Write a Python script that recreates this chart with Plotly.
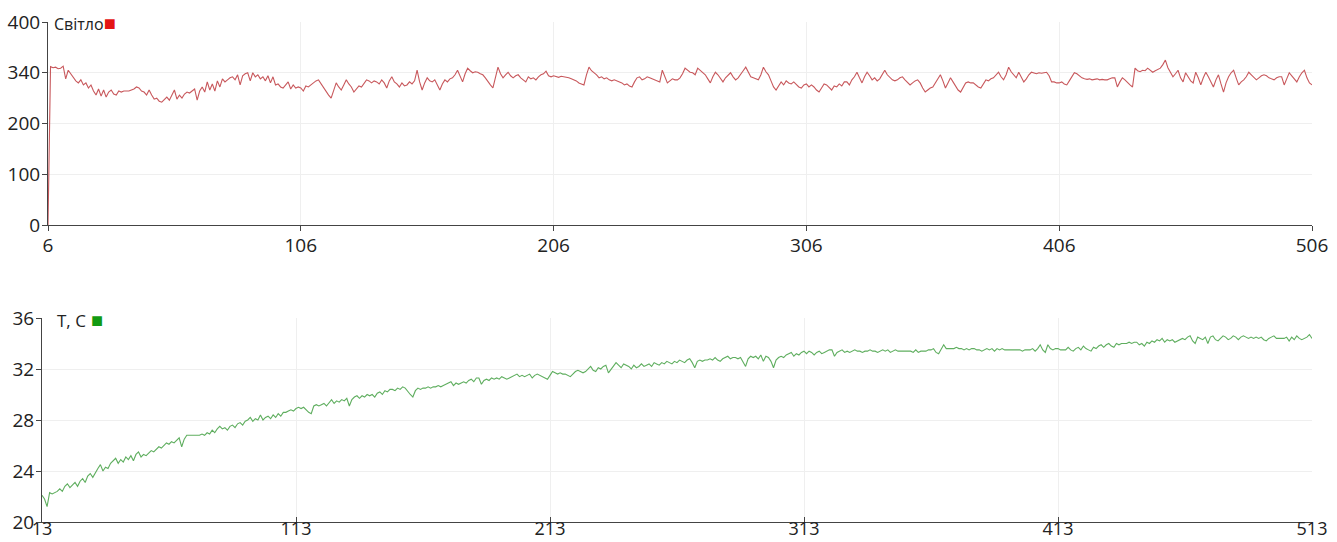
import plotly.graph_objects as go

# ---- Top series: "Світло" (light), x = 6..506 ----
light_x_start = 6
light_a = [0, 312, 310, 311, 308, 309, 313, 288, 305, 298, 292, 284, 280, 286, 276, 280, 270, 276, 264, 256,
           268, 254, 266, 252, 262, 266, 258, 256, 264, 262, 264, 264, 264, 266, 268, 272, 270, 264, 262, 256,
           266, 256, 248, 250, 244, 242, 248, 252, 246, 256, 266, 248, 256, 250, 258, 262, 260, 264, 268, 246,
           264, 272, 262, 282, 266, 278, 264, 284, 272, 288, 282, 286, 290, 292, 286, 296, 276, 294, 298, 300,
           284, 300, 292, 296, 288, 292, 284, 294, 280, 292, 276, 278, 272, 270, 276, 282, 268, 276, 270, 272]
light_b = [270, 264, 274, 272, 276, 280, 284, 286, 278, 272, 262, 256, 250, 264, 280, 272, 266, 276, 286, 278,
           272, 262, 268, 274, 272, 280, 286, 284, 280, 284, 282, 278, 286, 280, 270, 284, 292, 282, 278, 272,
           280, 274, 276, 282, 278, 284, 305, 282, 266, 280, 290, 284, 282, 286, 276, 266, 278, 286, 282, 288,
           290, 296, 305, 292, 282, 298, 309, 304, 300, 302, 301, 298, 296, 290, 282, 276, 270, 290, 311, 298,
           290, 296, 301, 294, 290, 294, 296, 290, 286, 282, 292, 288, 290, 286, 292, 296, 298, 303, 294, 292]
light_c = [294, 292, 291, 293, 292, 292, 290, 288, 286, 284, 280, 278, 276, 296, 311, 304, 300, 296, 290, 292,
           288, 290, 286, 284, 286, 284, 282, 280, 276, 278, 274, 272, 282, 290, 292, 286, 288, 292, 290, 288,
           286, 284, 282, 305, 292, 280, 284, 288, 286, 286, 290, 298, 309, 304, 301, 300, 296, 309, 304, 301,
           296, 288, 280, 292, 301, 296, 288, 282, 290, 296, 300, 292, 286, 290, 296, 304, 311, 300, 292, 290,
           288, 286, 296, 311, 302, 296, 284, 272, 266, 274, 282, 276, 284, 280, 278, 282, 276, 272, 270, 276]
light_d = [278, 272, 276, 272, 266, 262, 270, 278, 276, 270, 266, 274, 272, 278, 274, 282, 282, 276, 286, 292,
           301, 290, 280, 292, 301, 294, 286, 290, 284, 288, 296, 305, 296, 290, 286, 284, 286, 290, 292, 286,
           280, 276, 280, 284, 286, 280, 270, 262, 266, 270, 272, 280, 290, 296, 284, 270, 280, 290, 282, 274,
           266, 262, 270, 280, 282, 280, 280, 276, 272, 270, 278, 286, 284, 288, 290, 296, 301, 292, 286, 296,
           311, 302, 296, 290, 301, 292, 282, 288, 296, 301, 300, 298, 300, 299, 300, 301, 294, 282, 282, 280]
light_e = [280, 282, 278, 276, 284, 292, 300, 298, 294, 290, 288, 287, 288, 286, 287, 288, 286, 287, 286, 286,
           288, 290, 290, 272, 282, 290, 286, 280, 276, 272, 309, 304, 302, 305, 304, 309, 305, 301, 304, 306,
           309, 316, 325, 310, 300, 292, 298, 305, 290, 282, 300, 292, 284, 280, 301, 290, 276, 290, 301, 292,
           282, 272, 286, 296, 278, 262, 280, 292, 300, 305, 290, 276, 282, 286, 292, 301, 296, 290, 286, 290,
           294, 296, 294, 290, 288, 286, 290, 292, 292, 276, 288, 300, 294, 288, 282, 292, 300, 305, 290, 280,
           276]

# ---- Bottom series: "T, C" (temperature), x = 13..513 ----
temp_x_start = 13
temp_a = [22.1, 21.8, 21.2, 22.3, 22.2, 22.3, 22.4, 22.6, 22.4, 22.8, 23.0, 22.7, 22.9, 23.1, 22.8, 23.2, 23.4, 23.1, 23.6, 23.8,
          23.5, 23.9, 24.2, 24.5, 24.0, 24.3, 24.2, 24.6, 24.8, 25.0, 24.6, 24.9, 24.7, 25.1, 24.9, 25.2, 24.8, 25.3, 25.5, 25.1,
          25.3, 25.2, 25.4, 25.6, 25.5, 25.7, 25.9, 25.8, 26.0, 26.2, 26.1, 26.3, 26.2, 26.4, 26.6, 25.9, 26.5, 26.8, 26.8, 26.8,
          26.8, 26.8, 26.8, 26.9, 26.8, 27.0, 26.9, 27.2, 27.0, 27.3, 27.5, 27.3, 27.4, 27.2, 27.5, 27.6, 27.4, 27.7, 27.8, 27.6,
          27.9, 28.0, 28.2, 27.9, 28.1, 28.0, 28.4, 28.0, 28.2, 28.3, 28.1, 28.4, 28.2, 28.5, 28.3, 28.6, 28.6, 28.7, 28.8, 28.7]
temp_b = [28.9, 29.0, 28.9, 29.0, 28.8, 28.6, 28.5, 29.1, 29.2, 29.1, 29.2, 29.3, 29.1, 29.4, 29.6, 29.3, 29.5, 29.4, 29.6, 29.5,
          29.7, 29.1, 29.6, 29.8, 29.9, 29.7, 29.9, 29.8, 30.0, 29.9, 30.0, 29.8, 30.1, 30.2, 30.0, 30.3, 30.2, 30.4, 30.4, 30.3,
          30.5, 30.4, 30.6, 30.5, 30.2, 30.0, 29.8, 30.3, 30.5, 30.4, 30.5, 30.5, 30.6, 30.5, 30.6, 30.6, 30.7, 30.6, 30.7, 30.8,
          30.9, 31.0, 30.7, 30.9, 30.8, 30.9, 31.0, 30.9, 31.1, 31.2, 31.0, 31.3, 31.3, 30.8, 31.1, 31.2, 31.1, 31.3, 31.2, 31.3,
          31.2, 31.4, 31.3, 31.2, 31.3, 31.4, 31.5, 31.6, 31.4, 31.5, 31.4, 31.5, 31.6, 31.3, 31.5, 31.6, 31.5, 31.4, 31.3, 31.2]
temp_c = [31.5, 31.8, 31.7, 31.6, 31.7, 31.6, 31.6, 31.5, 31.4, 31.6, 31.8, 31.9, 31.8, 31.7, 31.8, 32.0, 32.2, 31.9, 31.8, 32.1,
          32.0, 32.2, 32.3, 31.7, 32.0, 32.2, 32.5, 32.3, 32.1, 32.4, 32.3, 32.2, 32.0, 32.3, 32.1, 32.2, 32.4, 32.2, 32.3, 32.4,
          32.2, 32.5, 32.4, 32.3, 32.5, 32.4, 32.6, 32.5, 32.4, 32.6, 32.5, 32.7, 32.6, 32.5, 32.7, 32.8, 32.5, 32.1, 32.6, 32.7,
          32.6, 32.7, 32.7, 32.8, 32.7, 32.9, 32.7, 32.6, 32.8, 32.9, 33.0, 32.8, 32.9, 32.9, 32.8, 32.9, 32.6, 32.2, 32.8, 33.0,
          32.9, 33.0, 32.8, 33.1, 32.6, 33.0, 32.9, 32.6, 32.1, 32.7, 32.9, 33.0, 32.9, 33.1, 33.2, 33.3, 33.0, 33.2, 33.1, 33.3]
temp_d = [33.4, 33.2, 33.4, 33.3, 33.1, 33.3, 33.4, 33.2, 33.3, 33.4, 33.5, 33.5, 33.0, 33.3, 33.4, 33.5, 33.3, 33.4, 33.3, 33.4,
          33.5, 33.4, 33.4, 33.3, 33.4, 33.4, 33.5, 33.4, 33.4, 33.3, 33.4, 33.5, 33.4, 33.5, 33.3, 33.4, 33.5, 33.4, 33.4, 33.4,
          33.4, 33.4, 33.4, 33.3, 33.5, 33.3, 33.4, 33.4, 33.4, 33.5, 33.5, 33.6, 33.3, 33.2, 33.5, 33.9, 33.6, 33.6, 33.6, 33.6,
          33.7, 33.6, 33.6, 33.5, 33.6, 33.5, 33.6, 33.6, 33.5, 33.5, 33.4, 33.5, 33.6, 33.5, 33.6, 33.4, 33.6, 33.5, 33.6, 33.5,
          33.5, 33.5, 33.5, 33.5, 33.5, 33.5, 33.4, 33.5, 33.5, 33.5, 33.6, 33.4, 33.6, 33.9, 33.5, 33.3, 33.9, 33.6, 33.5, 33.6]
temp_e = [33.6, 33.5, 33.5, 33.5, 33.7, 33.5, 33.4, 33.6, 33.7, 33.5, 33.8, 33.6, 33.5, 33.4, 33.7, 33.6, 33.8, 33.9, 33.7, 33.9,
          34.0, 33.8, 33.7, 34.0, 33.9, 34.0, 34.0, 34.0, 34.1, 34.0, 34.1, 34.1, 33.9, 34.0, 33.8, 34.1, 34.0, 34.2, 34.1, 34.3,
          34.2, 34.4, 34.1, 34.3, 34.2, 34.3, 34.1, 34.2, 34.3, 34.4, 34.3, 34.5, 34.6, 34.2, 34.0, 34.5, 34.4, 34.3, 34.5, 34.0,
          34.5, 34.6, 34.3, 34.2, 34.4, 34.6, 34.5, 34.3, 34.4, 34.6, 34.5, 34.3, 34.5, 34.6, 34.5, 34.4, 34.5, 34.4, 34.5, 34.4,
          34.5, 34.3, 34.2, 34.4, 34.5, 34.6, 34.4, 34.4, 34.4, 34.4, 34.5, 34.2, 34.5, 34.3, 34.6, 34.4, 34.3, 34.4, 34.5, 34.7,
          34.4]

light_ticks = [6, 106, 206, 306, 406, 506]
light_yticks = [0, 100, 200, 300, 400]
light_ytext = ["0", "100", "200", "340", "400"]
temp_ticks = [13, 113, 213, 313, 413, 513]
temp_yticks = [20, 24, 28, 32, 36]

light_y = light_a + light_b + light_c + light_d + light_e
light_x = list(range(light_x_start, light_x_start + len(light_y)))
temp_y = temp_a + temp_b + temp_c + temp_d + temp_e
temp_x = list(range(temp_x_start, temp_x_start + len(temp_y)))

W, H = 1337, 542
FONT = "Open Sans, Noto Sans, sans-serif"

fig = go.Figure()
fig.add_trace(go.Scatter(x=light_x, y=light_y, mode="lines",
                         line=dict(color="#c8585c", width=1.1), xaxis="x", yaxis="y",
                         showlegend=False, hoverinfo="skip"))
fig.add_trace(go.Scatter(x=temp_x, y=temp_y, mode="lines",
                         line=dict(color="#5fae5f", width=1.1), xaxis="x2", yaxis="y2",
                         showlegend=False, hoverinfo="skip"))

def ax(**kw):
    d = dict(showline=True, linecolor="#444", linewidth=1, ticks="outside",
             ticklen=5, tickcolor="#444", showgrid=True, gridcolor="#efefef",
             zeroline=False, automargin=False,
             tickfont=dict(family=FONT, size=19, color="#222"))
    d.update(kw)
    return d

fig.update_layout(
    width=W, height=H,
    margin=dict(l=0, r=0, t=0, b=0, autoexpand=False),
    paper_bgcolor="white", plot_bgcolor="white",
    xaxis=ax(domain=[48 / W, 1312 / W], range=[6, 506], tickvals=light_ticks,
             anchor="y", ticklabelstandoff=-2),
    yaxis=ax(domain=[(H - 225) / H, (H - 22) / H], range=[0, 400],
             tickvals=light_yticks, ticktext=light_ytext, anchor="x", ticklabelstandoff=-2),
    xaxis2=ax(domain=[42 / W, 1312 / W], range=[13, 513], tickvals=temp_ticks,
              anchor="y2", ticks="inside", ticklabelstandoff=-10,
              tickfont=dict(family=FONT, size=18, color="#222")),
    yaxis2=ax(domain=[(H - 522) / H, (H - 318) / H], range=[20, 36],
              tickvals=temp_yticks, anchor="x2", ticklabelstandoff=-2),
    annotations=[
        dict(text="Світло<span style='color:#e41414;font-size:20px'>■</span>", xref="paper", yref="paper",
             x=52 / W, y=(H - 22) / H, xanchor="left", yanchor="middle", showarrow=False,
             font=dict(family=FONT, size=16, color="#222")),
        dict(text="T, C<span style='color:#129a12;font-size:20px'> ■</span>", xref="paper", yref="paper",
             x=55 / W, y=(H - 319) / H, xanchor="left", yanchor="middle", showarrow=False,
             font=dict(family=FONT, size=17, color="#222")),
    ],
)

fig.write_html("out.html")
